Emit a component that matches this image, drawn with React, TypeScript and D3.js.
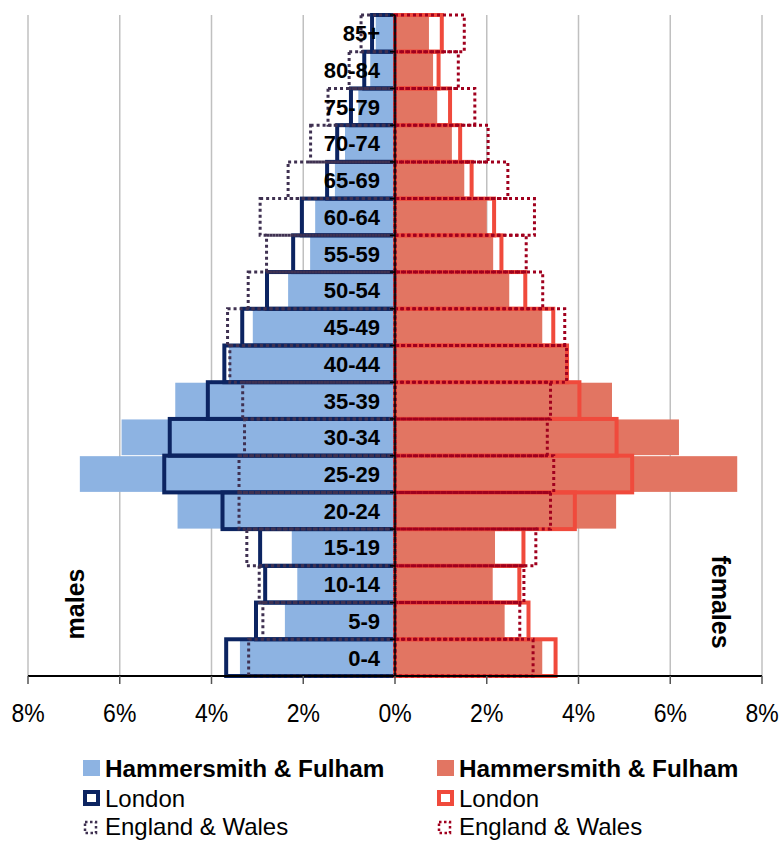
import React from "react";
import * as d3 from "d3";

const categories = ["0-4","5-9","10-14","15-19","20-24","25-29","30-34","35-39","40-44","45-49","50-54","55-59","60-64","65-69","70-74","75-79","80-84","85+"];
const maleHF = [3.38,2.4,2.13,2.25,4.74,6.87,5.96,4.79,3.62,3.1,2.33,1.85,1.74,1.31,1.09,0.8,0.54,0.42];
const maleLondon = [3.68,3.03,2.83,2.94,3.76,5.03,4.91,4.08,3.72,3.33,2.79,2.22,2.03,1.48,1.26,0.96,0.67,0.5];
const maleEW = [3.19,2.88,2.96,3.23,3.4,3.4,3.28,3.32,3.6,3.65,3.2,2.8,2.94,2.33,1.84,1.46,1.0,0.74];
const femaleHF = [3.21,2.39,2.13,2.18,4.82,7.46,6.19,4.73,3.72,3.21,2.49,2.14,2.0,1.51,1.24,0.92,0.83,0.74];
const femaleLondon = [3.5,2.91,2.71,2.8,3.92,5.17,4.83,4.02,3.75,3.45,2.84,2.32,2.16,1.67,1.42,1.2,0.95,1.02];
const femaleEW = [3.01,2.72,2.81,3.07,3.39,3.46,3.32,3.39,3.74,3.7,3.22,2.86,3.04,2.46,2.03,1.74,1.38,1.51];
const xTicks = [-8,-6,-4,-2,0,2,4,6,8];
const legendLabels = ["Hammersmith & Fulham","London","England & Wales"];

const C = {
  mFill: "#8DB3E2", fFill: "#E27562",
  mLon: "#0C2461", fLon: "#F04A3C",
  mEW: "#3F3151", fEW: "#A0001E",
  grid: "#C0C0C0",
};
const FONT = "'Liberation Sans', Arial, sans-serif";

export default function App() {
  const W = 780, H = 841;
  const x = d3.scaleLinear().domain([-8, 8]).range([28, 762]);
  const y = d3.scaleBand().domain([...categories].reverse()).range([15, 676]).padding(0);
  const bw = y.bandwidth();
  const x0 = x(0);

  const fillBars = (vals: number[], sign: number, color: string) =>
    categories.map((c, i) => {
      const xv = x(sign * vals[i]);
      return <rect key={c} x={Math.min(x0, xv)} y={y(c)! + 0.5} width={Math.abs(xv - x0)} height={bw - 1} fill={color} />;
    });
  const outlineBars = (vals: number[], sign: number, color: string, sw: number, dash?: string) =>
    categories.map((c, i) => {
      const xv = x(sign * vals[i]);
      return <rect key={c} x={Math.min(x0, xv)} y={y(c)!} width={Math.abs(xv - x0)} height={bw} fill="none" stroke={color} strokeWidth={sw} strokeDasharray={dash} />;
    });

  const legendBase = [777, 807, 835];
  const legendSwatch = (row: number, col: number) => {
    const sx = col === 0 ? 83 : 437;
    const b = legendBase[row];
    const male = col === 0;
    if (row === 0) return <rect x={sx} y={b - 17} width={17} height={16} fill={male ? C.mFill : C.fFill} />;
    if (row === 1) return <rect x={sx + 2} y={b - 15} width={13} height={12} fill="none" stroke={male ? C.mLon : C.fLon} strokeWidth={4} />;
    return <rect x={sx + 2} y={b - 13} width={11} height={11} fill="none" stroke={male ? C.mEW : C.fEW} strokeWidth={2.5} strokeDasharray="2.5,2.5" />;
  };

  return (
    <svg width={W} height={H} style={{ position: "absolute", left: 0, top: 0 }} fontFamily={FONT}>
      <rect width={W} height={H} fill="#fff" />
      {xTicks.filter(t => t !== 0).map(t => (
        <line key={t} x1={x(t)} x2={x(t)} y1={15} y2={676} stroke={C.grid} strokeWidth={1.5} />
      ))}
      {fillBars(maleHF, -1, C.mFill)}
      {fillBars(femaleHF, 1, C.fFill)}
      {outlineBars(maleLondon, -1, C.mLon, 4)}
      {outlineBars(femaleLondon, 1, C.fLon, 4)}
      {outlineBars(maleEW, -1, C.mEW, 3, "3,3")}
      {outlineBars(femaleEW, 1, C.fEW, 3, "3,3")}
      <line x1={x0} x2={x0} y1={15} y2={676} stroke="#000" strokeWidth={1.5} />
      {categories.map(c => (
        <line key={c} x1={x0 - 5} x2={x0} y1={y(c)!} y2={y(c)!} stroke="#000" strokeWidth={1.5} />
      ))}
      {categories.map(c => (
        <text key={c} x={380} y={y(c)! + bw / 2} dy="0.36em" textAnchor="end" fontWeight="bold" fontSize={22}>{c}</text>
      ))}
      <line x1={x(-8)} x2={x(8)} y1={676} y2={676} stroke="#000" strokeWidth={2} />
      {xTicks.map(t => (
        <g key={t}>
          <line x1={x(t)} x2={x(t)} y1={676} y2={684} stroke="#555" strokeWidth={1.5} />
          <text x={x(t)} y={722} textAnchor="middle" fontSize={23}
            transform={`translate(0,722) scale(1,1.15) translate(0,-722)`}>{Math.abs(t)}%</text>
        </g>
      ))}
      <text transform="translate(84,604) rotate(-90)" textAnchor="middle" fontWeight="bold" fontSize={25}>males</text>
      <text transform="translate(712,602) rotate(90)" textAnchor="middle" fontWeight="bold" fontSize={25}>females</text>
      {[0, 1].map(col => legendLabels.map((lab, row) => (
        <g key={col + "-" + row}>
          {legendSwatch(row, col)}
          <text x={col === 0 ? 105 : 459} y={legendBase[row]} fontSize={row === 0 ? 24.3 : 24} fontWeight={row === 0 ? "bold" : "normal"}>{lab}</text>
        </g>
      )))}
    </svg>
  );
}
